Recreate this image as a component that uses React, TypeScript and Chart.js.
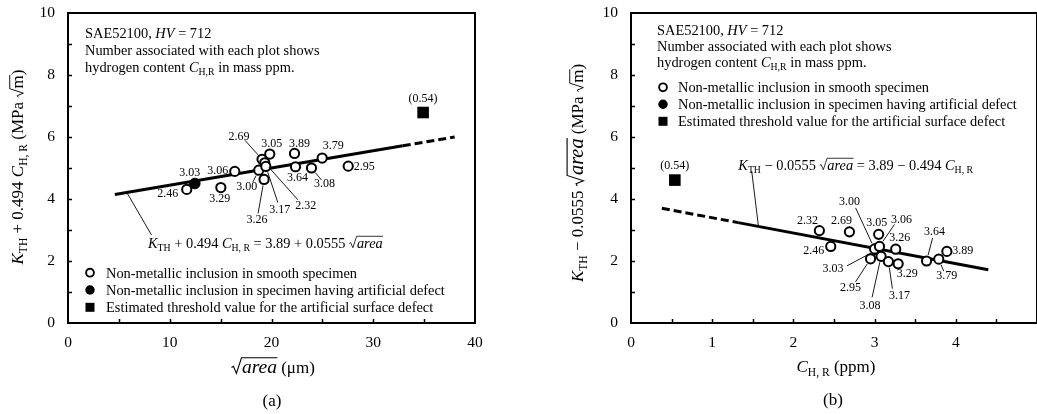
import React, { useEffect, useRef } from 'react';
import { Chart, registerables } from 'chart.js';
Chart.register(...registerables);

const FONT = '"Liberation Serif", "Times New Roman", Times, serif';

// ---------------- Panel (a): sqrt(area) vs K_TH + 0.494 C_H,R ----------------
const aLabels = ['2.46', '3.29', '3.06', '3.00', '2.69', '2.32', '3.17', '3.05', '3.26', '3.89', '3.64', '3.08', '3.79', '2.95'];
const aX = [11.67, 15.02, 16.39, 18.75, 19.07, 19.34, 19.44, 19.83, 19.27, 22.26, 22.36, 23.93, 24.98, 27.54];
const aY = [4.31, 4.37, 4.89, 4.93, 5.28, 5.17, 5.05, 5.45, 4.63, 5.47, 5.04, 5.0, 5.32, 5.06];
const aDefectLabels = ['3.03'];
const aDefectX = [12.46];
const aDefectY = [4.5];
const aSurfaceLabels = ['(0.54)'];
const aSurfaceX = [34.9];
const aSurfaceY = [6.79];
const aFitSolidX = [4.6, 32.9];
const aFitDashX = [32.9, 38.0];
const aFitIntercept = 3.89;
const aFitSlope = 0.0555;
const aXTicks = [0, 10, 20, 30, 40];
const aXMinor = [5, 10, 15, 20, 25, 30, 35];

// ---------------- Panel (b): C_H,R vs K_TH - 0.0555 sqrt(area) ----------------
const bLabels = ['2.32', '2.46', '2.69', '2.95', '3.00', '3.05', '3.06', '3.08', '3.17', '3.26', '3.29', '3.64', '3.79', '3.89'];
const bX = [2.32, 2.46, 2.69, 2.95, 3.0, 3.05, 3.06, 3.08, 3.17, 3.26, 3.29, 3.64, 3.79, 3.89];
const bY = [2.98, 2.47, 2.94, 2.07, 2.39, 2.86, 2.47, 2.15, 1.98, 2.38, 1.91, 2.0, 2.06, 2.31];
const bDefectLabels = ['3.03'];
const bDefectX = [3.03];
const bDefectY = [2.36];
const bSurfaceLabels = ['(0.54)'];
const bSurfaceX = [0.54];
const bSurfaceY = [4.61];
const bFitSolidX = [1.32, 4.4];
const bFitDashX = [0.38, 1.32];
const bFitIntercept = 3.89;
const bFitSlope = -0.494;
const bXTicks = [0, 1, 2, 3, 4];
const bXMinor = [0.5, 1, 1.5, 2, 2.5, 3, 3.5, 4, 4.5];

const yTicks = [0, 2, 4, 6, 8, 10];
const yMinor = [1, 2, 3, 4, 5, 6, 7, 8, 9];

// ---------------- label placement (style: pixel offsets from each point) ----------------
// [dx, dy] text centre offset, optional [sx, sy] leader-line start offset
const aLabelOffsets: number[][] = [
  [-19, 4], [-1, 11], [-17, -1], [-12, 17, -6, 12], [-23, -22, -17, -19], [41, 43, 33, 37],
  [14, 43, 12, 36], [2, -10], [-7, 40, -6, 34], [5, -10], [2, 11], [13, 16, 10, 12], [11, -12], [16, 1],
];
const aDefectOffsets: number[][] = [[-5, -11]];
const bLabelOffsets: number[][] = [
  [-12, -10], [-17, 4], [-8, -11], [-20, 29, -15, 23], [-25, -47, -19, -41], [-2, -11], [22, -27, 15, -22],
  [-11, 49, -9, 41], [11, 34, 4, 27], [4, -11], [9, 10], [8, -29, 6, -23], [8, 17, 5, 12], [16, -1],
];
const bDefectOffsets: number[][] = [[-44, 19, -30, 16]];
const surfaceOffsets: number[][] = [[0, -14]];

type Seg = { t: string; it?: boolean; sub?: boolean; rad?: boolean; k?: number };

function segSize(s: Seg, size: number) {
  return size * (s.k ?? 1) * (s.sub ? 0.68 : 1);
}
function setFont(ctx: CanvasRenderingContext2D, s: Seg, size: number) {
  ctx.font = `${s.it ? 'italic ' : ''}${segSize(s, size)}px ${FONT}`;
}
function radW(sz: number) {
  return sz * 0.55;
}
function richWidth(ctx: CanvasRenderingContext2D, segs: Seg[], size: number) {
  let w = 0;
  for (const s of segs) {
    setFont(ctx, s, size);
    w += ctx.measureText(s.t).width + (s.rad ? radW(segSize(s, size)) : 0);
  }
  return w;
}
function drawRich(ctx: CanvasRenderingContext2D, segs: Seg[], x: number, y: number, size: number, align: 'left' | 'center' = 'left') {
  const w = richWidth(ctx, segs, size);
  let cx = align === 'center' ? x - w / 2 : x;
  ctx.textAlign = 'left';
  ctx.textBaseline = 'alphabetic';
  ctx.fillStyle = '#000';
  for (const s of segs) {
    setFont(ctx, s, size);
    const sz = segSize(s, size);
    const tw = ctx.measureText(s.t).width;
    const dy = s.sub ? size * 0.22 : 0;
    if (s.rad) {
      const rw = radW(sz);
      const top = y - sz * 0.78;
      ctx.beginPath();
      ctx.lineWidth = Math.max(0.8, sz * 0.055);
      ctx.strokeStyle = '#000';
      ctx.moveTo(cx + sz * 0.02, y - sz * 0.28);
      ctx.lineTo(cx + sz * 0.12, y - sz * 0.34);
      ctx.lineTo(cx + sz * 0.27, y + sz * 0.02);
      ctx.lineTo(cx + rw - sz * 0.02, top);
      ctx.lineTo(cx + rw + tw + sz * 0.02, top);
      ctx.stroke();
      cx += rw;
    }
    ctx.fillText(s.t, cx, y + dy);
    cx += tw;
  }
}
function drawRichVertical(ctx: CanvasRenderingContext2D, segs: Seg[], x: number, y: number, size: number) {
  ctx.save();
  ctx.translate(x, y);
  ctx.rotate(-Math.PI / 2);
  drawRich(ctx, segs, 0, 0, size, 'center');
  ctx.restore();
}

function line(ctx: CanvasRenderingContext2D, x1: number, y1: number, x2: number, y2: number, w = 1) {
  ctx.beginPath();
  ctx.lineWidth = w;
  ctx.strokeStyle = '#000';
  ctx.moveTo(x1, y1);
  ctx.lineTo(x2, y2);
  ctx.stroke();
}

interface LabelGroup {
  x: number[];
  y: number[];
  labels: string[];
  offs: number[][];
  r: number;
}

function drawPointLabels(chart: any, groups: LabelGroup[]) {
  const ctx: CanvasRenderingContext2D = chart.ctx;
  const xs = chart.scales.x;
  const ys = chart.scales.y;
  for (const g of groups) {
    g.labels.forEach((lab, i) => {
      const px = xs.getPixelForValue(g.x[i]);
      const py = ys.getPixelForValue(g.y[i]);
      const o = g.offs[i];
      ctx.font = `12px ${FONT}`;
      ctx.textAlign = 'center';
      ctx.textBaseline = 'middle';
      ctx.fillStyle = '#000';
      ctx.fillText(lab, px + o[0], py + o[1]);
      if (o.length > 2) {
        const sx = px + o[2];
        const sy = py + o[3];
        const d = Math.hypot(sx - px, sy - py);
        const ex = px + ((sx - px) / d) * (g.r + 0.5);
        const ey = py + ((sy - py) / d) * (g.r + 0.5);
        line(ctx, sx, sy, ex, ey, 0.9);
      }
    });
  }
}

function drawFrame(chart: any, xMinor: number[]) {
  const ctx: CanvasRenderingContext2D = chart.ctx;
  const { left, top, right, bottom } = chart.chartArea;
  const xs = chart.scales.x;
  const ys = chart.scales.y;
  ctx.save();
  ctx.strokeStyle = '#000';
  ctx.lineWidth = 2;
  ctx.strokeRect(left, top, right - left, bottom - top);
  for (const v of yMinor) {
    const py = Math.round(ys.getPixelForValue(v)) + 0.5;
    line(ctx, left, py, left + 4, py, 1.5);
  }
  for (const v of xMinor) {
    const px = Math.round(xs.getPixelForValue(v)) + 0.5;
    line(ctx, px, bottom, px, bottom - 4, 1.5);
  }
  ctx.restore();
}

function legend(ctx: CanvasRenderingContext2D, mx: number, tx: number, rows: number[], size: number) {
  const texts = [
    'Non-metallic inclusion in smooth specimen',
    'Non-metallic inclusion in specimen having artificial defect',
    'Estimated threshold value for the artificial surface defect',
  ];
  ctx.save();
  ctx.beginPath();
  ctx.arc(mx, rows[0], 3.9, 0, Math.PI * 2);
  ctx.fillStyle = '#fff';
  ctx.fill();
  ctx.lineWidth = 1.9;
  ctx.strokeStyle = '#000';
  ctx.stroke();
  ctx.beginPath();
  ctx.arc(mx, rows[1], 4.7, 0, Math.PI * 2);
  ctx.fillStyle = '#000';
  ctx.fill();
  ctx.fillRect(mx - 4.5, rows[2] - 4.5, 9, 9);
  texts.forEach((t, i) => drawRich(ctx, [{ t }], tx, rows[i] + 5, size));
  ctx.restore();
}

const TXT = 14.4;
const AX = 17;
const TICK = 15.5;

function scatterDatasets(
  x: number[], y: number[], dx: number[], dy: number[], sx: number[], sy: number[],
  solidX: number[], dashX: number[], b0: number, b1: number,
) {
  const pts = (xx: number[], yy: number[]) => xx.map((v, i) => ({ x: v, y: yy[i] }));
  const fit = (xx: number[]) => xx.map((v) => ({ x: v, y: b0 + b1 * v }));
  return [
    { data: pts(x, y), pointStyle: 'circle', pointRadius: 4.6, pointBorderWidth: 2, pointBackgroundColor: '#fff', pointBorderColor: '#000', showLine: false, order: 1 },
    { data: pts(dx, dy), pointStyle: 'circle', pointRadius: 5.3, pointBorderWidth: 1, pointBackgroundColor: '#000', pointBorderColor: '#000', showLine: false, order: 1 },
    { data: pts(sx, sy), pointStyle: 'rect', pointRadius: 8.2, pointBorderWidth: 0, pointBackgroundColor: '#000', pointBorderColor: '#000', showLine: false, order: 1 },
    { data: fit(solidX), showLine: true, borderColor: '#000', borderWidth: 3, pointRadius: 0, order: 5 },
    { data: fit(dashX), showLine: true, borderColor: '#000', borderWidth: 3, borderDash: [8, 4], pointRadius: 0, order: 5 },
  ];
}

function baseOptions(xMin: number, xMax: number, xTicks: number[], yAxisWidth: number, padRight: number) {
  return {
    responsive: false,
    animation: false as const,
    layout: { padding: { left: 0, right: padRight, top: 13, bottom: 0 } },
    plugins: { legend: { display: false }, tooltip: { enabled: false } },
    scales: {
      x: {
        type: 'linear' as const,
        min: xMin,
        max: xMax,
        afterBuildTicks: (s: any) => { s.ticks = xTicks.map((v) => ({ value: v })); },
        afterFit: (s: any) => { s.height = 91; s.paddingLeft = 0; s.paddingRight = 0; },
        grid: { display: false, drawTicks: false },
        border: { display: false },
        ticks: { color: '#000', font: { family: FONT, size: TICK }, padding: 11, maxRotation: 0, callback: (v: any) => String(v) },
      },
      y: {
        type: 'linear' as const,
        min: 0,
        max: 10,
        afterBuildTicks: (s: any) => { s.ticks = yTicks.map((v) => ({ value: v })); },
        afterFit: (s: any) => { s.width = yAxisWidth; s.paddingTop = 0; s.paddingBottom = 0; },
        grid: { display: false, drawTicks: false },
        border: { display: false },
        ticks: { color: '#000', font: { family: FONT, size: TICK }, padding: 13, callback: (v: any) => String(v) },
      },
    },
  };
}

export default function App() {
  const aRef = useRef<HTMLCanvasElement>(null);
  const bRef = useRef<HTMLCanvasElement>(null);

  useEffect(() => {
    const plugA = {
      id: 'decorA',
      afterDraw(chart: any) {
        const ctx: CanvasRenderingContext2D = chart.ctx;
        const { left: L, top: T } = chart.chartArea;
        const xs = chart.scales.x;
        const ys = chart.scales.y;
        ctx.save();
        drawFrame(chart, aXMinor);
        drawPointLabels(chart, [
          { x: aX, y: aY, labels: aLabels, offs: aLabelOffsets, r: 5.6 },
          { x: aDefectX, y: aDefectY, labels: aDefectLabels, offs: aDefectOffsets, r: 5.8 },
          { x: aSurfaceX, y: aSurfaceY, labels: aSurfaceLabels, offs: surfaceOffsets, r: 6 },
        ]);
        drawRich(ctx, [{ t: 'SAE52100, ' }, { t: 'HV', it: true }, { t: ' = 712' }], L + 17, T + 25, TXT);
        drawRich(ctx, [{ t: 'Number associated with each plot shows' }], L + 17, T + 42, TXT);
        drawRich(ctx, [{ t: 'hydrogen content ' }, { t: 'C', it: true }, { t: 'H,R', sub: true }, { t: ' in mass ppm.' }], L + 17, T + 59, TXT);
        legend(ctx, L + 22, L + 38, [T + 259.7, T + 277, T + 294.3], TXT);
        drawRich(ctx, [
          { t: 'K', it: true }, { t: 'TH', sub: true }, { t: ' + 0.494 ' }, { t: 'C', it: true }, { t: 'H, R', sub: true },
          { t: ' = 3.89 + 0.0555 ' }, { t: 'area', it: true, rad: true },
        ], L + 80, T + 234.5, TXT);
        const lx = 5.78;
        line(ctx, xs.getPixelForValue(lx), ys.getPixelForValue(aFitIntercept + aFitSlope * lx), L + 83.5, T + 222, 0.9);
        drawRichVertical(ctx, [
          { t: 'K', it: true }, { t: 'TH', sub: true }, { t: ' + 0.494 ' }, { t: 'C', it: true }, { t: 'H, R', sub: true },
          { t: ' (MPa ' }, { t: 'm', rad: true }, { t: ')' },
        ], 23, 167, AX);
        drawRich(ctx, [{ t: 'area', it: true, rad: true, k: 1.15 }, { t: ' (μm)' }], 273, 373, AX, 'center');
        drawRich(ctx, [{ t: '(a)' }], 272, 405.5, AX, 'center');
        ctx.restore();
      },
    };
    const plugB = {
      id: 'decorB',
      afterDraw(chart: any) {
        const ctx: CanvasRenderingContext2D = chart.ctx;
        const { left: L, top: T } = chart.chartArea;
        const xs = chart.scales.x;
        const ys = chart.scales.y;
        ctx.save();
        drawFrame(chart, bXMinor);
        drawPointLabels(chart, [
          { x: bX, y: bY, labels: bLabels, offs: bLabelOffsets, r: 5.6 },
          { x: bDefectX, y: bDefectY, labels: bDefectLabels, offs: bDefectOffsets, r: 5.8 },
          { x: bSurfaceX, y: bSurfaceY, labels: bSurfaceLabels, offs: surfaceOffsets, r: 6 },
        ]);
        drawRich(ctx, [{ t: 'SAE52100, ' }, { t: 'HV', it: true }, { t: ' = 712' }], L + 26, T + 22, TXT);
        drawRich(ctx, [{ t: 'Number associated with each plot shows' }], L + 26, T + 38, TXT);
        drawRich(ctx, [{ t: 'hydrogen content ' }, { t: 'C', it: true }, { t: 'H,R', sub: true }, { t: ' in mass ppm.' }], L + 26, T + 54, TXT);
        legend(ctx, L + 32, L + 47, [T + 74.3, T + 91.3, T + 108.3], TXT);
        drawRich(ctx, [
          { t: 'K', it: true }, { t: 'TH', sub: true }, { t: ' − 0.0555 ' }, { t: 'area', it: true, rad: true },
          { t: ' = 3.89 − 0.494 ' }, { t: 'C', it: true }, { t: 'H, R', sub: true },
        ], L + 107.3, T + 156.5, TXT);
        const lx = 1.57;
        line(ctx, xs.getPixelForValue(lx), ys.getPixelForValue(bFitIntercept + bFitSlope * lx), L + 120.7, T + 158, 0.9);
        drawRichVertical(ctx, [
          { t: 'K', it: true }, { t: 'TH', sub: true }, { t: ' − 0.0555 ' }, { t: 'area', it: true, rad: true, k: 1.2 },
          { t: ' (MPa ' }, { t: 'm', rad: true }, { t: ')' },
        ], 63, 173, AX);
        drawRich(ctx, [{ t: 'C', it: true }, { t: 'H, R', sub: true }, { t: ' (ppm)' }], 316, 372, AX, 'center');
        drawRich(ctx, [{ t: '(b)' }], 313, 405, AX, 'center');
        ctx.restore();
      },
    };

    const cA = new Chart(aRef.current as HTMLCanvasElement, {
      type: 'scatter',
      data: { datasets: scatterDatasets(aX, aY, aDefectX, aDefectY, aSurfaceX, aSurfaceY, aFitSolidX, aFitDashX, aFitIntercept, aFitSlope) as any },
      options: baseOptions(0, 40, aXTicks, 68, 45) as any,
      plugins: [plugA],
    });
    const cB = new Chart(bRef.current as HTMLCanvasElement, {
      type: 'scatter',
      data: { datasets: scatterDatasets(bX, bY, bDefectX, bDefectY, bSurfaceX, bSurfaceY, bFitSolidX, bFitDashX, bFitIntercept, bFitSlope) as any },
      options: baseOptions(0, 5, bXTicks, 111, 13) as any,
      plugins: [plugB],
    });
    return () => {
      cA.destroy();
      cB.destroy();
    };
  }, []);

  return (
    <div style={{ position: 'fixed', left: 0, top: 0, width: 1037, height: 414, overflow: 'hidden', background: '#fff' }}>
      <canvas ref={aRef} width={520} height={414} style={{ position: 'absolute', left: 0, top: 0 }} />
      <canvas ref={bRef} width={530} height={414} style={{ position: 'absolute', left: 520, top: 0 }} />
    </div>
  );
}
